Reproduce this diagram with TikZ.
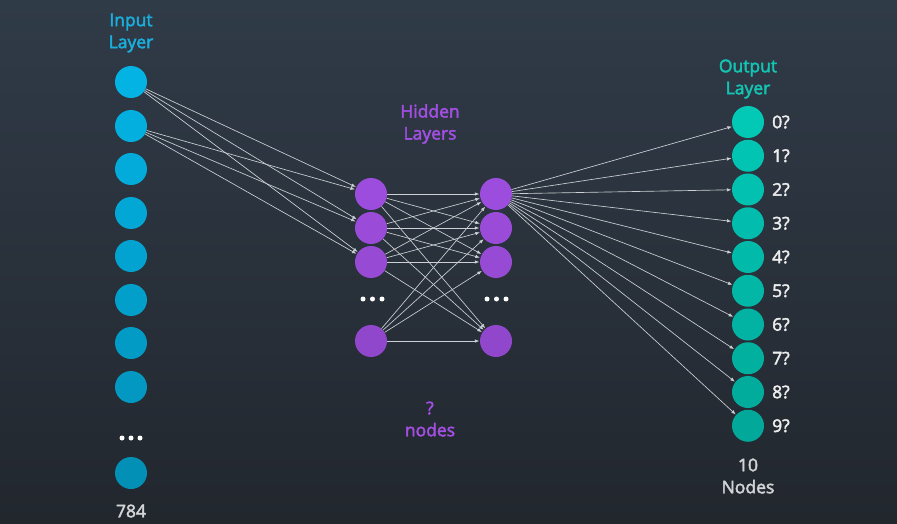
\documentclass[tikz,border=0pt]{standalone}
\usepackage{fontspec}
\setmainfont{Open Sans}[UprightFeatures={FakeBold=2.5}]
\usetikzlibrary{arrows.meta}
\definecolor{bgtop}{HTML}{303B48}
\definecolor{bgbot}{HTML}{22272E}
\definecolor{inblue}{HTML}{02B3E4}
\definecolor{hidpurple}{HTML}{A652EA}
\definecolor{outteal}{HTML}{02CCBA}
\definecolor{txtblue}{HTML}{1AAEDD}
\definecolor{txtpurple}{HTML}{A24FE2}
\definecolor{txtteal}{HTML}{14C4B2}
\definecolor{txtwhite}{HTML}{EDEDED}
\definecolor{txtgrey}{HTML}{D2D4D6}
\definecolor{linecol}{HTML}{CDD1D5}
\tikzset{
  neuron/.style={circle, minimum size=32pt, inner sep=0pt, draw=none},
  conn/.style={draw=linecol, line width=0.65pt, -{Latex[length=4.5pt,width=3.5pt]}, shorten >=0.5pt},
  lbl/.style={font=\fontsize{17.5}{22}\selectfont, align=center, inner sep=0pt},
  dotmark/.style={circle, fill=white, minimum size=5pt, inner sep=0pt},
}
\begin{document}
\begin{tikzpicture}[x=1pt,y=-1pt]
\useasboundingbox (0,0) rectangle (897,524);
\shade[top color=bgtop, bottom color=bgbot] (0,0) rectangle (897,524);
% input layer
\foreach \n/\y in {1/82,2/126,3/169,4/213,5/256,6/300,7/343,8/387,9/473}{
  \pgfmathsetmacro{\p}{100-0.05*(\y-80)}
  \node[neuron, fill=inblue!\p!black] (i\n) at (131,\y) {};
}
\node[dotmark] (id1) at (122,438) {};
\node[dotmark] (id2) at (131,438) {};
\node[dotmark] (id3) at (140,438) {};
% hidden layers
\foreach \n/\y in {1/194,2/228,3/262,4/341}{
  \pgfmathsetmacro{\p}{100-0.05*(\y-80)}
  \node[neuron, fill=hidpurple!\p!black] (a\n) at (371,\y) {};
  \node[neuron, fill=hidpurple!\p!black] (b\n) at (496,\y) {};
}
\node[dotmark] (ad1) at (363,299) {};
\node[dotmark] (ad2) at (372.5,299) {};
\node[dotmark] (ad3) at (382,299) {};
\node[dotmark] (bd1) at (487,299) {};
\node[dotmark] (bd2) at (496.5,299) {};
\node[dotmark] (bd3) at (506,299) {};
% output layer
\foreach \k in {0,...,9}{
  \pgfmathsetmacro{\y}{122+33.75*\k}
  \pgfmathsetmacro{\p}{100-0.05*(\y-80)}
  \node[neuron, fill=outteal!\p!black] (o\k) at (748,\y) {};
  \node[lbl, text=txtwhite, anchor=west] (ol\k) at (772,\y) {\k?};
}
% connections
\foreach \i in {1,2}{
  \foreach \j in {1,2,3}{
    \draw[conn] (i\i) -- (a\j);
  }
}
\foreach \i in {1,...,4}{
  \foreach \j in {1,...,4}{
    \draw[conn] (a\i) -- (b\j);
  }
}
\foreach \k in {0,...,9}{
  \draw[conn] (b1) -- (o\k);
}
% labels
\node[lbl, text=txtblue] (tin) at (131,33) {Input\\Layer};
\node[lbl, text=txtpurple] (thid) at (430,124) {Hidden\\Layers};
\node[lbl, text=txtteal] (tout) at (748,79) {Output\\Layer};
\node[lbl, text=txtpurple] (tq) at (430,419) {?\\nodes};
\node[lbl, text=txtgrey] (t784) at (131,511) {784};
\node[lbl, text=txtgrey] (t10) at (748,476) {10\\Nodes};
\end{tikzpicture}
\end{document}
